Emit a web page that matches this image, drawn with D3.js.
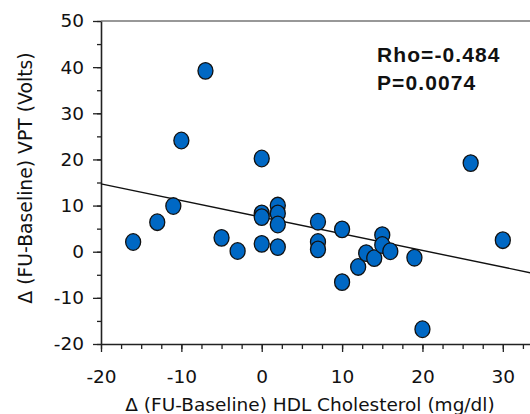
<!DOCTYPE html>
<html>
<head>
<meta charset="utf-8">
<script src="https://cdn.jsdelivr.net/npm/d3@7"></script>
<style>
  body { margin: 0; background: #fff; }
  svg { display: block; font-family: "DejaVu Sans", Verdana, sans-serif; }
</style>
</head>
<body>
<div id="chart"></div>
<script>
// change in HDL cholesterol (mg/dl) and change in VPT (volts)
const hdlChange = [-16, -13, -11, -10, -7, -5, -3,
  0, 0, 0, 0,
  2, 2, 2, 2,
  7, 7, 7,
  10, 10, 12, 13, 14, 15, 15, 16, 19, 20, 26, 30];
const vptChange = [2.1, 6.4, 9.9, 24.1, 39.2, 3.0, 0.15,
  20.2, 8.3, 7.5, 1.7,
  10.0, 8.3, 5.9, 1.0,
  6.5, 2.1, 0.5,
  4.85, -6.6, -3.3, -0.3, -1.4, 3.6, 1.45, 0.1, -1.3, -16.8, 19.2, 2.5];

// regression line
const fitIntercept = 7.49;
const fitSlope = -0.3605;

const xTicks = [-20, -10, 0, 10, 20, 30];
const yTicks = [-20, -10, 0, 10, 20, 30, 40, 50];
const statLines = ["Rho=-0.484", "P=0.0074"];

(function () {
  const width = 530;
  const height = 414;

  const svg = d3.select("#chart")
    .append("svg")
    .attr("width", width)
    .attr("height", height);

  const x = d3.scaleLinear().domain([-20, 35]).range([101, 543]);
  const y = d3.scaleLinear().domain([-20, 50]).range([344, 21]);

  // top border
  svg.append("line")
    .attr("x1", x(-20)).attr("x2", x(35))
    .attr("y1", y(50)).attr("y2", y(50))
    .attr("stroke", "#333")
    .attr("stroke-width", 1.2);

  // minor ticks first, then major axis on top
  const xMinor = d3.range(-20, 35.1, 2.5);
  const yMinor = d3.range(-20, 50.1, 5);

  svg.append("g")
    .attr("transform", "translate(0," + y(-20) + ")")
    .call(d3.axisBottom(x).tickValues(xMinor).tickSize(5).tickFormat(""))
    .call(g => g.select(".domain").remove())
    .selectAll("line").attr("stroke", "#222").attr("stroke-width", 1.3);

  svg.append("g")
    .attr("transform", "translate(" + x(-20) + ",0)")
    .call(d3.axisLeft(y).tickValues(yMinor).tickSize(4).tickFormat(""))
    .call(g => g.select(".domain").remove())
    .selectAll("line").attr("stroke", "#222").attr("stroke-width", 1.3);

  // plain hyphen for negatives, like the original
  const fmt = d => String(d);

  const xAxis = svg.append("g")
    .attr("transform", "translate(0," + y(-20) + ")")
    .call(d3.axisBottom(x).tickValues(xTicks).tickFormat(fmt)
      .tickSizeInner(8).tickSizeOuter(0).tickPadding(18));

  const yAxis = svg.append("g")
    .attr("transform", "translate(" + x(-20) + ",0)")
    .call(d3.axisLeft(y).tickValues(yTicks).tickFormat(fmt)
      .tickSizeInner(8).tickSizeOuter(0).tickPadding(9));

  [xAxis, yAxis].forEach(function (ax) {
    ax.select(".domain").attr("stroke", "#222").attr("stroke-width", 1.6);
    ax.selectAll(".tick line").attr("stroke", "#222").attr("stroke-width", 1.3);
    ax.selectAll(".tick text")
      .attr("fill", "#111")
      .attr("font-size", "18.5px")
      .attr("font-family", "DejaVu Sans, Verdana, sans-serif");
  });

  // regression line
  const fitX = x.domain();
  svg.append("line")
    .attr("x1", x(fitX[0])).attr("y1", y(fitIntercept + fitSlope * fitX[0]))
    .attr("x2", x(fitX[1])).attr("y2", y(fitIntercept + fitSlope * fitX[1]))
    .attr("stroke", "#111")
    .attr("stroke-width", 1.4);

  // points
  svg.append("g")
    .selectAll("ellipse")
    .data(hdlChange.map((d, i) => ({ x: d, y: vptChange[i] })))
    .join("ellipse")
    .attr("cx", d => x(d.x))
    .attr("cy", d => y(d.y))
    .attr("rx", 7.5)
    .attr("ry", 8.3)
    .attr("fill", "#0068c4")
    .attr("stroke", "#111")
    .attr("stroke-width", 1.3);

  // stats text
  svg.append("g")
    .selectAll("text")
    .data(statLines)
    .join("text")
    .attr("x", 377)
    .attr("y", (d, i) => 62 + i * 28)
    .attr("font-family", "Liberation Sans, Arial, sans-serif")
    .attr("font-weight", "bold")
    .attr("font-size", "21px")
    .attr("letter-spacing", "1.1px")
    .attr("fill", "#111")
    .text(d => d);

  // axis titles
  svg.append("text")
    .attr("x", 310)
    .attr("y", 411)
    .attr("text-anchor", "middle")
    .attr("font-size", "18.5px")
    .attr("fill", "#111")
    .text("Δ (FU-Baseline) HDL Cholesterol (mg/dl)");

  svg.append("text")
    .attr("transform", "translate(32,178) rotate(-90)")
    .attr("text-anchor", "middle")
    .attr("font-size", "18.8px")
    .attr("fill", "#111")
    .text("Δ (FU-Baseline) VPT (Volts)");
})();
</script>
</body>
</html>
